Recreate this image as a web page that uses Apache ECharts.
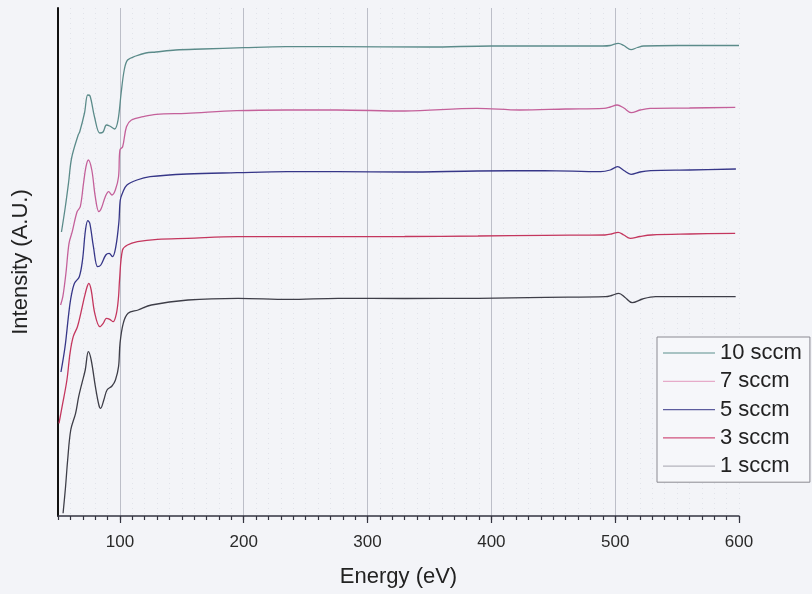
<!DOCTYPE html>
<html>
<head>
<meta charset="utf-8">
<script src="https://cdn.jsdelivr.net/npm/echarts@6/dist/echarts.min.js"></script>
<style>
  html, body { margin: 0; padding: 0; background: #f3f4f8; }
  #chart { width: 812px; height: 594px; }
</style>
</head>
<body>
<div id="chart"></div>
<script>
// Spectra: energy (eV) and intensity (arbitrary units, curves stacked by offset)
const labels = ['10 sccm', '7 sccm', '5 sccm', '3 sccm', '1 sccm'];

const e10 = [52.8, 55.9, 58.5, 61.0, 66.3, 67.5, 71.4, 74.0, 75.9, 79.5, 83.7, 86.4, 89.1, 91.7, 95.8, 98.5, 101.0, 103.5, 106.2, 112.9, 120.9, 129, 145, 166.8, 200, 234, 274.5, 350, 400, 450, 490, 496, 502.5, 507, 512.8, 518, 522.9, 550, 600];
const i10 = [284, 309, 333, 358, 381, 384, 403, 421, 420, 399, 383, 384, 391, 390, 387, 396, 423, 446, 456, 460, 463, 464, 466, 467, 468.3, 469.3, 469.3, 469, 470, 470, 470, 470.5, 472.7, 470.5, 466.3, 468.5, 470, 470.5, 470.5];

const e7 = [52.1, 53.9, 56.4, 58.9, 61.5, 65.4, 68.0, 70.6, 72.6, 74.5, 77.3, 80.1, 83.0, 85.0, 88.2, 90.9, 93.6, 96.3, 98.9, 100.0, 102.2, 105.3, 109.3, 118.7, 129.4, 153.7, 194.2, 234.5, 275, 330, 388.3, 423, 460, 490.8, 496, 501.5, 507, 513, 520, 528.2, 560, 597];
const i7 = [211, 219.3, 242.7, 272.7, 284.3, 304.3, 309.3, 332.7, 349.3, 356, 346, 319.3, 304.3, 307.7, 319.3, 324.3, 321, 326, 339.3, 366, 369.3, 389.3, 396, 399.3, 401.7, 402.7, 405.3, 406, 406, 405, 407.7, 406, 407, 407.7, 409, 411, 408, 403.3, 406, 407.7, 408, 408.7];

const e5 = [52.4, 55.7, 58.7, 60.6, 63.3, 67.2, 69.8, 72.2, 74.1, 75.7, 78.6, 82.0, 84.6, 88.6, 91.3, 94.0, 96.7, 99.2, 100.3, 102.5, 105.7, 113.8, 124.4, 154.1, 194.6, 235, 275.5, 330, 388.8, 442.7, 488.3, 496, 501.9, 507, 512.8, 520, 528.7, 560, 597.5];
const i5 = [144, 169.3, 202.7, 219.3, 232.7, 239.3, 256, 286, 295.3, 292.7, 269.3, 249.3, 251, 261, 262.7, 259.3, 269.3, 294.3, 316, 324.3, 331, 336, 339.3, 342, 343.3, 344.3, 344.3, 344, 345, 345.3, 344.3, 346, 349.3, 345.5, 341.7, 344, 345.3, 346, 347];

const e3 = [50.8, 53.3, 57.2, 59.7, 62.3, 65.7, 68.4, 71.4, 73.5, 74.9, 76.8, 79.7, 83.8, 86.5, 89.1, 91.8, 94.5, 97.2, 98.9, 99.7, 102.1, 106.1, 114.2, 130.3, 154.6, 195.1, 235.5, 276, 330, 389.2, 443.2, 491.7, 497, 502.4, 507, 512.2, 520, 529.1, 560, 596.9];
const i3 = [92.7, 109.3, 136, 162.7, 179.3, 189.3, 202.7, 219.3, 229.3, 232.7, 226, 202.7, 189.3, 192.7, 197.7, 196.7, 194.3, 202.7, 219.3, 236, 266, 271, 274.3, 276.7, 277.7, 279.3, 279.3, 279.3, 279.5, 280, 280.7, 281, 282, 283.7, 281, 277.7, 279.5, 281, 282, 282.7];

const e1 = [54.1, 56.1, 57.8, 60.3, 64.2, 66.7, 69.3, 72.0, 74.5, 76.8, 80.2, 83.0, 84.4, 87.0, 89.6, 93.6, 96.4, 98.9, 100.1, 102.7, 106.6, 114.7, 125.4, 155, 195.5, 236, 276.4, 330, 389.6, 443.7, 492.2, 497, 502.9, 508, 513.7, 522, 532.6, 560, 597.3];
const i1 = [2.7, 29.3, 56, 86, 102.7, 119.3, 132.7, 146, 164.3, 156, 129.3, 111, 107.7, 116, 126, 130, 136, 149.3, 172.7, 192.7, 202.7, 206, 211, 216, 217.7, 216.7, 217.7, 217.5, 217.7, 218.7, 219.3, 220.5, 222.7, 218.5, 213.3, 217, 219.3, 219.3, 219.3];

const lineColors = ['#5b8b8a', '#c4609a', '#363688', '#c4365e', '#3e3e48'];
const legendColors = ['#5a8f8c', '#e6abc9', '#5d5d9e', '#d0527c', '#b4b4bc'];

// major ticks / labels on the energy axis
const majorTicks = [100, 200, 300, 400, 500, 600];
const majorGrid = [100, 200, 300, 400, 500];

const zip = (xs, ys) => xs.map((x, k) => [x, ys[k]]);
const energies = [e10, e7, e5, e3, e1];
const intensities = [i10, i7, i5, i3, i1];

const chart = echarts.init(document.getElementById('chart'), null, { renderer: 'canvas' });

const FONT = 'Liberation Sans, Arial, sans-serif';

const axisBase = { type: 'value', min: 50, max: 600, interval: 10, gridIndex: 0 };

chart.setOption({
  backgroundColor: '#f3f4f8',
  animation: false,
  grid: { left: 58, right: 73, top: 8, bottom: 78 },
  legend: {
    orient: 'vertical',
    left: 657,
    top: 337,
    padding: [5, 8, 5, 6],
    itemWidth: 52,
    itemHeight: 14,
    itemGap: 6.3,
    backgroundColor: '#f6f7fa',
    borderColor: '#8a8a92',
    borderWidth: 1,
    borderRadius: 0,
    textStyle: { fontFamily: FONT, fontSize: 22, color: '#222', lineHeight: 22 },
    data: labels.map((n, k) => ({
      name: n,
      icon: 'path://M0,0 L52,0 L52,1.2 L0,1.2 Z',
      itemStyle: { color: legendColors[k] }
    }))
  },
  xAxis: [
    Object.assign({}, axisBase, {
      name: 'Energy (eV)',
      nameLocation: 'middle',
      nameGap: 50,
      nameTextStyle: { fontFamily: FONT, fontSize: 22, color: '#222' },
      axisLine: { show: true, onZero: false, lineStyle: { color: '#333340', width: 1.5 } },
      axisTick: { show: true, inside: false, length: 4, lineStyle: { color: '#333340', width: 1.2 } },
      axisLabel: { show: false },
      splitLine: { show: true, lineStyle: { color: '#e1e3ea', width: 1, type: [1, 4] } }
    }),
    Object.assign({}, axisBase, {
      position: 'bottom',
      axisLine: { show: false, onZero: false },
      axisTick: { show: true, length: 7, customValues: majorTicks, lineStyle: { color: '#333340', width: 1.2 } },
      axisLabel: { show: true, customValues: majorTicks, margin: 18, fontFamily: FONT, fontSize: 17, color: '#2a2a2a' },
      splitLine: { show: false }
    }),
    Object.assign({}, axisBase, {
      position: 'bottom',
      axisLine: { show: false, onZero: false },
      axisTick: { show: false, customValues: majorGrid },
      axisLabel: { show: false, customValues: majorGrid },
      splitLine: { show: true, lineStyle: { color: '#bcbec8', width: 1 } }
    })
  ],
  yAxis: {
    type: 'value',
    min: 0,
    max: 508,
    name: 'Intensity (A.U.)',
    nameLocation: 'middle',
    nameGap: 26,
    nameTextStyle: { fontFamily: FONT, fontSize: 22, color: '#222' },
    axisLine: { show: true, lineStyle: { color: '#111', width: 2 } },
    axisTick: { show: false },
    axisLabel: { show: false },
    splitLine: { show: false }
  },
  series: labels.map((n, k) => ({
    name: n,
    type: 'line',
    xAxisIndex: 0,
    data: zip(energies[k], intensities[k]),
    showSymbol: false,
    symbol: 'none',
    smooth: 0.35,
    lineStyle: { color: lineColors[k], width: 1.3 },
    itemStyle: { color: lineColors[k] }
  }))
});
</script>
</body>
</html>
